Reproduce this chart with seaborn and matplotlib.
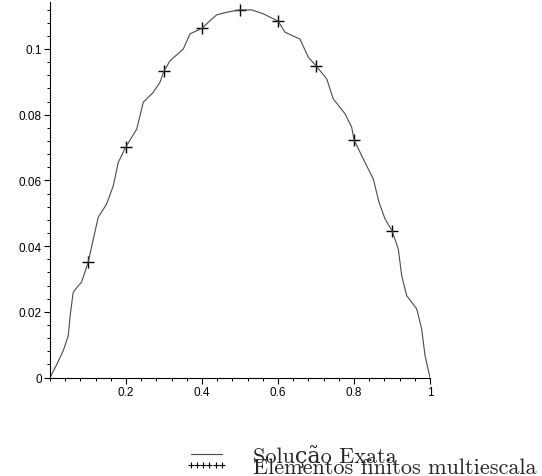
import matplotlib
matplotlib.use("Agg")
import matplotlib.pyplot as plt
import numpy as np
import seaborn as sns
from matplotlib.lines import Line2D
from matplotlib.ticker import MultipleLocator, FixedLocator, FixedFormatter

# exact solution
x_exact = [0.0, 0.018, 0.035, 0.048, 0.053, 0.061, 0.072, 0.083, 0.1, 0.118,
           0.127, 0.149, 0.1666, 0.1797, 0.2, 0.2282, 0.2455, 0.2718, 0.2895,
           0.3, 0.3158, 0.3508, 0.3684, 0.4, 0.4211, 0.4387, 0.47, 0.5, 0.5308,
           0.5613, 0.6, 0.6184, 0.6579, 0.6797, 0.7, 0.7282, 0.7455, 0.7763,
           0.7939, 0.8, 0.8203, 0.8508, 0.8658, 0.8816, 0.9, 0.9166, 0.9255,
           0.9387, 0.965, 0.978, 0.987, 1.0]
u_exact = [0.0, 0.0040, 0.0082, 0.0127, 0.0188, 0.0259, 0.0276, 0.0290, 0.0349,
           0.0442, 0.0488, 0.0528, 0.0584, 0.0655, 0.0703, 0.0756, 0.0838, 0.0868,
           0.0899, 0.0933, 0.0964, 0.1000, 0.1046, 0.1063, 0.1086, 0.1104, 0.1113,
           0.1119, 0.1119, 0.1107, 0.1085, 0.1051, 0.1030, 0.0975, 0.0949, 0.0909,
           0.0848, 0.0803, 0.0762, 0.0724, 0.0675, 0.0604, 0.0533, 0.0483, 0.0447,
           0.0391, 0.0310, 0.0249, 0.0209, 0.0148, 0.0066, 0.0]

# multiscale finite element nodal values
x_fem = [0.1, 0.2, 0.3, 0.4, 0.5, 0.6, 0.7, 0.8, 0.9]
u_fem = [0.0351, 0.0703, 0.0933, 0.1063, 0.1119, 0.1085, 0.0949, 0.0724, 0.0447]

x_ticks = [0.2, 0.4, 0.6, 0.8, 1.0]
x_tick_labels = ["0.2", "0.4", "0.6", "0.8", "1"]
y_ticks = [0.0, 0.02, 0.04, 0.06, 0.08, 0.1]
y_tick_labels = ["0", "0.02", "0.04", "0.06", "0.08", "0.1"]

label_exact = "Solução Exata"
label_fem = "Elementos finitos multiescala"

sns.set_style("white")
plt.rcParams["font.family"] = ["Liberation Sans", "DejaVu Sans"]

fig = plt.figure(figsize=(5.42, 4.77), dpi=100)
ax = fig.add_axes([50 / 542, 1 - 378.5 / 477, 380 / 542, 375.5 / 477])

line_color = "#4a4a4a"
sns.lineplot(x=x_exact, y=u_exact, ax=ax, color=line_color, linewidth=0.8,
             sort=False, estimator=None, legend=False)
sns.scatterplot(x=x_fem, y=u_fem, ax=ax, marker="+", s=70, color="black",
                linewidth=1.0, legend=False)

ax.set_xlim(0, 1.0)
ax.set_ylim(0, 0.1143)
ax.xaxis.set_major_locator(FixedLocator(x_ticks))
ax.xaxis.set_major_formatter(FixedFormatter(x_tick_labels))
ax.yaxis.set_major_locator(FixedLocator(y_ticks))
ax.yaxis.set_major_formatter(FixedFormatter(y_tick_labels))
ax.xaxis.set_minor_locator(MultipleLocator(0.04))
ax.yaxis.set_minor_locator(MultipleLocator(0.004))

for side in ["top", "right"]:
    ax.spines[side].set_visible(False)
for side in ["left", "bottom"]:
    ax.spines[side].set_color("black")
    ax.spines[side].set_linewidth(0.8)

ax.tick_params(which="major", direction="out", length=4, width=0.8,
               labelsize=8.5, pad=2, colors="black", left=True, bottom=True)
ax.tick_params(which="minor", direction="out", length=2.5, width=0.7,
               colors="black", left=True, bottom=True)

# Maple-style legend: overlapping rows under the plot
handles = [
    Line2D([], [], color=line_color, linewidth=0.8),
    Line2D([], [], color="black", linestyle="none", marker="+",
           markersize=5, markeredgewidth=0.8),
]
fig.legend(handles, [label_exact, label_fem], loc="upper left",
           bbox_to_anchor=(184 / 542, 1 - 445 / 477), frameon=False,
           numpoints=6, handlelength=2.0, labelspacing=-0.45,
           handletextpad=1.1, borderpad=0, borderaxespad=0,
           prop={"family": ["cmr10", "DejaVu Serif"], "size": 16})

fig.savefig("out.png", dpi=100)
